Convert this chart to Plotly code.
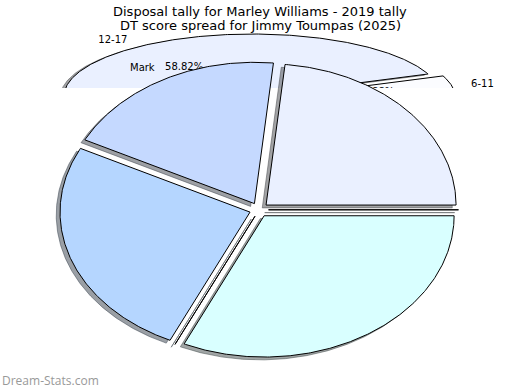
import numpy as np
import plotly.graph_objects as go

# ---------------- data ----------------
TITLE_TOP = "Disposal tally for Marley Williams - 2019 tally"
TITLE_MAIN = "DT score spread for Jimmy Toumpas (2025)"
WATERMARK = "Dream-Stats.com"

# Main pie: DT score spread (counter-clockwise from 3 o'clock)
dt_bins = ["0-49", "50-74", "75-99", "100-124", "125-149", "150+"]
dt_counts = [11, 9, 12, 0, 15, 0]
dt_colors = ["#EAF0FF", "#C5D9FF", "#B5D6FF", "#C8E6FF", "#D9FFFF", "#E6F4FF"]

# Leftover pie from the earlier disposal chart (mostly hidden)
disp_bins = ["6-11", "12-17", "18-23"]
disp_counts = [1, 10, 6]
disp_colors = ["#FBFCFF", "#EAF0FF", "#DDEBFF"]
extra_label = "Mark"

# ---------------- layout constants (pixels) ----------------
W, H = 520, 390
CLIP_Y = 88
MAIN = dict(cx=259.0, cy=209.8, rx=190.0, ry=141.3)
BG = dict(cx=258.0, cy=99.1, rx=188.5, ry=62.6)
EXPLODE = 0.05
SHADOW = 0.02
LABEL_DY = -1.0    # small vertical tweaks for plotly text vs. matplotlib centering
PCT_DY = 1.0
FONT = "DejaVu Sans"


def shadow_rgba(hexc):
    h = hexc.lstrip("#")
    r, g, b = (int(h[i:i + 2], 16) for i in (0, 2, 4))
    return f"rgba({int(r*0.3)},{int(g*0.3)},{int(b*0.3)},0.5)"


def build_wedges(counts, geo):
    total = float(sum(counts))
    out = []
    start = 0.0
    for c in counts:
        span = 360.0 * c / total
        t1, t2 = start, start + span
        mid = np.radians((t1 + t2) / 2)
        ax = geo["cx"] + EXPLODE * geo["rx"] * np.cos(mid)
        ay = geo["cy"] - EXPLODE * geo["ry"] * np.sin(mid)
        n = max(2, int(span * 2) + 2)
        t = np.radians(np.linspace(t1, t2, n))
        xs = np.concatenate([[ax], ax + geo["rx"] * np.cos(t), [ax]])
        ys = np.concatenate([[ay], ay - geo["ry"] * np.sin(t), [ay]])
        out.append(dict(xs=xs, ys=ys, ax=ax, ay=ay, mid=mid, frac=c / total))
        start = t2
    return out


def add_pie(fig, counts, colors, geo, xa, ya):
    ws = build_wedges(counts, geo)
    dx, dy = -SHADOW * geo["rx"], SHADOW * geo["ry"]
    for w, col in zip(ws, colors):
        sc = shadow_rgba(col)
        fig.add_trace(go.Scatter(x=w["xs"] + dx, y=w["ys"] + dy, mode="lines",
                                 fill="toself", fillcolor=sc,
                                 line=dict(color=sc, width=1),
                                 hoverinfo="skip", showlegend=False,
                                 xaxis=xa, yaxis=ya))
    for w, col in zip(ws, colors):
        fig.add_trace(go.Scatter(x=w["xs"], y=w["ys"], mode="lines",
                                 fill="toself", fillcolor=col,
                                 line=dict(color="#000000", width=1),
                                 hoverinfo="skip", showlegend=False,
                                 xaxis=xa, yaxis=ya))
    return ws


fig = go.Figure()

# background (clipped) pie in the top strip subplot
bg_w = add_pie(fig, disp_counts, disp_colors, BG, "x", "y")
lab_x, lab_y, lab_t, lab_p = [], [], [], []
pct_x, pct_y, pct_t = [], [], []
for w, name in zip(bg_w, disp_bins):
    cx, sy = np.cos(w["mid"]), np.sin(w["mid"])
    lab_x.append(w["ax"] + 1.1 * BG["rx"] * cx)
    lab_y.append(w["ay"] - 1.1 * BG["ry"] * sy + LABEL_DY)
    lab_t.append(name)
    lab_p.append("middle left" if cx < 0 else "middle right")
    pct_x.append(w["ax"] + 0.6 * BG["rx"] * cx)
    pct_y.append(w["ay"] - 0.6 * BG["ry"] * sy + PCT_DY)
    pct_t.append(f"{100 * w['frac']:.2f}%")
fig.add_trace(go.Scatter(x=lab_x, y=lab_y, text=lab_t, mode="text",
                         textposition=lab_p, cliponaxis=True,
                         textfont=dict(family=FONT, size=10, color="#000"),
                         hoverinfo="skip", showlegend=False, xaxis="x", yaxis="y"))
fig.add_trace(go.Scatter(x=pct_x, y=pct_y, text=pct_t, mode="text",
                         textposition="middle center", cliponaxis=True,
                         textfont=dict(family=FONT, size=10, color="#000"),
                         hoverinfo="skip", showlegend=False, xaxis="x", yaxis="y"))

# main pie
add_pie(fig, dt_counts, dt_colors, MAIN, "x2", "y2")

axis_off = dict(visible=False, showgrid=False, zeroline=False, fixedrange=True)
fig.update_layout(
    width=W, height=H,
    margin=dict(l=0, r=0, t=0, b=0),
    paper_bgcolor="white", plot_bgcolor="rgba(0,0,0,0)",
    showlegend=False,
    xaxis=dict(domain=[0, 1], range=[0, W], anchor="y", **axis_off),
    yaxis=dict(domain=[1 - CLIP_Y / H, 1], range=[CLIP_Y, 0], anchor="x", **axis_off),
    xaxis2=dict(domain=[0, 1], range=[0, W], anchor="y2", **axis_off),
    yaxis2=dict(domain=[0, 1], range=[H, 0], anchor="x2", **axis_off),
    annotations=[
        dict(text=TITLE_TOP, x=260, y=11, xref="x2", yref="y2", showarrow=False,
             xanchor="center", yanchor="middle",
             font=dict(family=FONT, size=13, color="#000")),
        dict(text=TITLE_MAIN, x=260, y=25.5, xref="x2", yref="y2", showarrow=False,
             xanchor="center", yanchor="middle",
             font=dict(family=FONT, size=13, color="#000")),
        dict(text=extra_label, x=142, y=67.5, xref="x2", yref="y2", showarrow=False,
             xanchor="center", yanchor="middle",
             font=dict(family=FONT, size=10, color="#000")),
        dict(text=WATERMARK, x=0, y=380, xref="x2", yref="y2", showarrow=False,
             xanchor="left", yanchor="middle",
             font=dict(family="Open Sans", size=12, color="#999999")),
    ],
)

fig.write_html("out.html", config={"displayModeBar": False, "staticPlot": True},
               post_script="document.body.style.margin='0';document.body.style.overflow='hidden';")
